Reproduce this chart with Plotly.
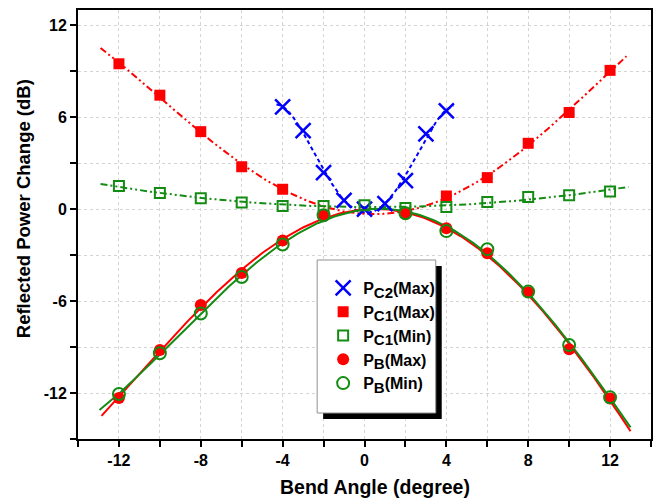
import numpy as np
import plotly.graph_objects as go

# ---------------- data ----------------
pc2_x = [-4, -3, -2, -1, 0, 1, 2, 3, 4]
pc2_max = [6.68, 5.12, 2.38, 0.58, 0.0, 0.37, 1.86, 4.91, 6.42]

pc1_max_x = [-12, -10, -8, -6, -4, 4, 6, 8, 10, 12]
pc1_max = [9.49, 7.44, 5.06, 2.77, 1.30, 0.86, 2.06, 4.30, 6.31, 9.06]

pc1_min_x = [-12, -10, -8, -6, -4, -2, 0, 2, 4, 6, 8, 10, 12]
pc1_min = [1.51, 1.06, 0.71, 0.43, 0.21, 0.20, 0.25, 0.08, 0.15, 0.47, 0.80, 0.91, 1.15]

pb_x = [-12, -10, -8, -6, -4, -2, 2, 4, 6, 8, 10, 12]
pb_max = [-12.32, -9.19, -6.25, -4.17, -2.05, -0.45, -0.30, -1.25, -2.87, -5.43, -9.14, -12.35]
pb_min = [-12.06, -9.40, -6.81, -4.43, -2.31, -0.40, -0.27, -1.43, -2.61, -5.38, -8.86, -12.28]

x_ticks = [-12, -8, -4, 0, 4, 8, 12]
x_labels = ["-12", "-8", "-4", "0", "4", "8", "12"]
y_ticks = [-12, -6, 0, 6, 12]
y_labels = ["-12", "-6", "0", "6", "12"]

RED = "#ff0000"
GREEN = "#148c14"
BLUE = "#0000ff"
FONT = "Liberation Sans, Arial, sans-serif"


def fit(xs, ys, deg, lo, hi):
    c = np.polyfit(xs, ys, deg)
    xx = np.linspace(lo, hi, 200)
    return xx, np.polyval(c, xx)


def lbl(main, sub, rest):
    return ("<b>" + main + "<sub><span style='font-size:15px'>" + sub +
            "</span></sub>" + rest + "</b>")


fig = go.Figure()

# fitted lines
fx, fy = fit(pc2_x, pc2_max, 4, -4.3, 4.35)
fig.add_trace(go.Scatter(x=fx, y=fy, mode="lines", showlegend=False,
                         line=dict(color=BLUE, width=2, dash="4px,3px")))
fx, fy = fit(pc1_max_x, pc1_max, 4, -12.9, 12.8)
fig.add_trace(go.Scatter(x=fx, y=fy, mode="lines", showlegend=False,
                         line=dict(color=RED, width=2, dash="7px,3px,2px,3px,2px,3px")))
fx, fy = fit(pc1_min_x, pc1_min, 2, -12.9, 12.9)
fig.add_trace(go.Scatter(x=fx, y=fy, mode="lines", showlegend=False,
                         line=dict(color=GREEN, width=2, dash="7px,3px,2px,3px,2px,3px")))
fx, fy = fit(pb_x, pb_max, 4, -12.85, 13)
fig.add_trace(go.Scatter(x=fx, y=fy, mode="lines", showlegend=False,
                         line=dict(color=RED, width=2)))
fx, fy = fit(pb_x, pb_min, 4, -12.95, 13)
fig.add_trace(go.Scatter(x=fx, y=fy, mode="lines", showlegend=False,
                         line=dict(color=GREEN, width=2)))

# markers
fig.add_trace(go.Scatter(x=pc2_x, y=pc2_max, mode="markers", name=lbl("P", "C2", "(Max)"),
                         marker=dict(symbol="x-thin", size=15, line=dict(color=BLUE, width=2.5))))
fig.add_trace(go.Scatter(x=pc1_max_x, y=pc1_max, mode="markers", name=lbl("P", "C1", "(Max)"),
                         marker=dict(symbol="square", size=11, color=RED)))
fig.add_trace(go.Scatter(x=pc1_min_x, y=pc1_min, mode="markers", name=lbl("P", "C1", "(Min)"),
                         marker=dict(symbol="square-open", size=10, color=GREEN, line=dict(width=2))))
fig.add_trace(go.Scatter(x=pb_x, y=pb_max, mode="markers", name=lbl("P", "B", "(Max)"),
                         marker=dict(symbol="circle", size=12, color=RED)))
fig.add_trace(go.Scatter(x=pb_x, y=pb_min, mode="markers", name=lbl("P", "B", "(Min)"),
                         marker=dict(symbol="circle-open", size=12, color=GREEN, line=dict(width=2))))

W, H = 654, 498
L, R, T, B = 78, 1, 10, 59
pw, ph = W - L - R, H - T - B


def px(xp):
    return (xp - L) / pw


def py(yp):
    return (H - B - yp) / ph


grid = dict(showgrid=True, gridcolor="#d4d4d4", griddash="3px,3px", gridwidth=1)

fig.update_xaxes(range=[-14, 14], tickvals=x_ticks, ticktext=x_labels, ticks="outside", ticklen=6, tickwidth=2,
                 tickcolor="black", showline=True, linecolor="black", linewidth=2, mirror=True,
                 zeroline=False, tickfont=dict(family=FONT, size=16, color="black", weight="bold"),
                 minor=dict(dtick=2, tick0=0, ticks="outside", ticklen=6, tickwidth=2, tickcolor="black",
                            showgrid=True, gridcolor="#d4d4d4", griddash="3px,3px"),
                 **grid)
fig.update_yaxes(range=[-15, 13], tickvals=y_ticks, ticktext=y_labels, ticks="outside", ticklen=6, tickwidth=2,
                 tickcolor="black", showline=True, linecolor="black", linewidth=2, mirror=True,
                 zeroline=False, tickfont=dict(family=FONT, size=16, color="black", weight="bold"),
                 minor=dict(dtick=3, tick0=0, ticks="outside", ticklen=6, tickwidth=2, tickcolor="black",
                            showgrid=True, gridcolor="#d4d4d4", griddash="3px,3px"),
                 **grid)

shapes = [
    dict(type="rect", xref="paper", yref="paper", x0=px(324), x1=px(443), y0=py(419), y1=py(266),
         fillcolor="black", line=dict(width=0), layer="above"),
    dict(type="rect", xref="paper", yref="paper", x0=px(318), x1=px(437), y0=py(413), y1=py(260),
         fillcolor="white", line=dict(color="#909090", width=1), layer="above"),
]

annotations = [
    dict(text="<b>Bend Angle (degree)</b>", xref="paper", yref="paper", x=px(376), y=py(487),
         showarrow=False, font=dict(family=FONT, size=19.5, color="black"), xanchor="center", yanchor="middle"),
    dict(text="<b>Reflected Power Change (dB)</b>", xref="paper", yref="paper", x=px(24), y=py(209),
         showarrow=False, textangle=-90, font=dict(family=FONT, size=18.5, color="black"),
         xanchor="center", yanchor="middle"),
]

fig.update_layout(
    width=W, height=H,
    margin=dict(l=L, r=R, t=T, b=B),
    paper_bgcolor="white", plot_bgcolor="white",
    shapes=shapes, annotations=annotations,
    showlegend=True,
    legend=dict(x=px(324), y=py(271), xanchor="left", yanchor="top",
                bgcolor="rgba(0,0,0,0)", borderwidth=0,
                font=dict(family=FONT, size=16, color="black"),
                tracegroupgap=0, itemwidth=30),
)

fig.write_html("out.html")
